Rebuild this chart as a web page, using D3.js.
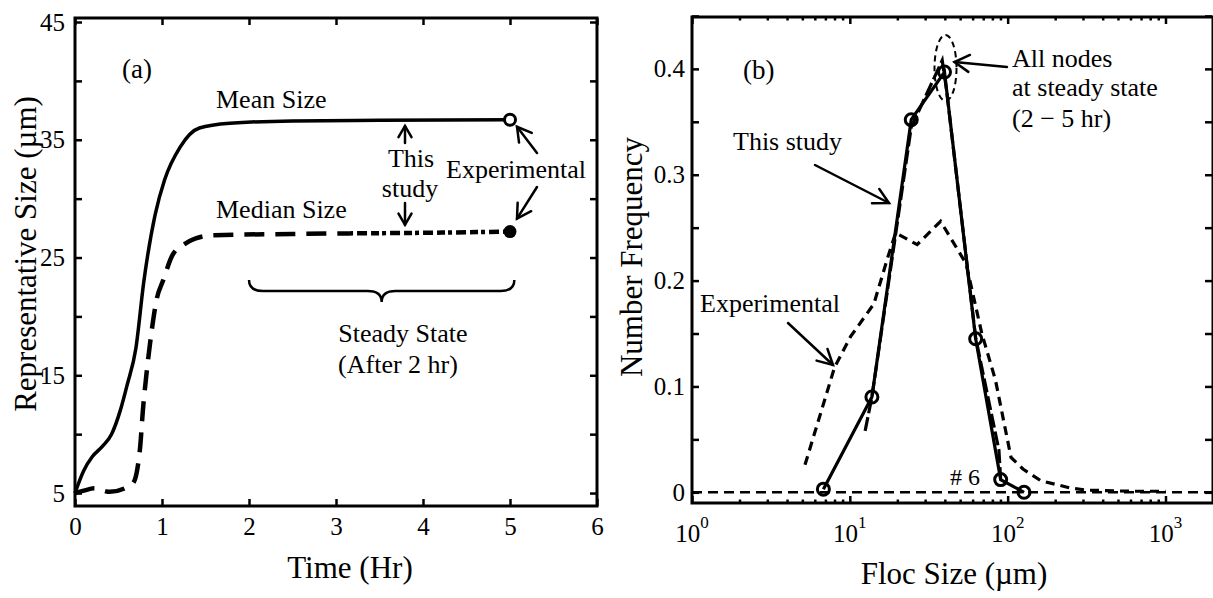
<!DOCTYPE html>
<html><head><meta charset="utf-8">
<script src="https://cdn.jsdelivr.net/npm/d3@7"></script>
<style>
body{margin:0;background:#fff}
svg text{font-family:"Liberation Serif","Times New Roman",serif;fill:#000}
</style>
</head><body>
<svg id="c" width="1213" height="598"></svg>
<script>
// ---------- Panel (a) data ----------
const meanTime   = [0,0.1,0.2,0.32,0.42,0.52,0.6,0.7,0.79,0.92,1.03,1.21,1.43,1.78,2.5,3.5,5];
const meanSize   = [5.0,6.9,8.1,9.0,10.0,12.0,14.2,17.3,22.9,28.6,31.6,34.4,36.0,36.4,36.6,36.65,36.7];
const medianTime = [0,0.1,0.22,0.4,0.6,0.68,0.72,0.75,0.78,0.82,0.88,0.94,1.01,1.12,1.25,1.38,1.6,2.5,3.15,4,5];
const medianSize = [5.0,5.2,5.4,5.1,5.5,6.0,7.2,9.0,12.0,15.0,18.7,21.5,23.0,25.2,26.1,26.6,26.9,27.0,27.05,27.1,27.2];
const medianSplit = 3.15;   // dash pattern changes after this time
const expTime    = [5];
const expMean    = [36.7];
const expMedian  = [27.2];
const aXTicks    = [0,1,2,3,4,5,6];
const aYTicks    = [5,10,15,20,25,30,35,40,45];
const aYLabels   = [5,15,25,35,45];

// ---------- Panel (b) data ----------
const studySize  = [6.8,13.8,24.5,39.8,62.7,90.3,127];
const studyFreq  = [0.003,0.090,0.352,0.397,0.145,0.012,0.0];
const nodeSize   = [12.5,13.8,24.5,38.5,41,62.7,88,90.3];
const nodeFreq   = [0.058,0.090,0.345,0.408,0.38,0.146,0.04,0.012];
const expSize    = [5.2,8.0,10.1,14.2,17.4,19.5,26.7,37.6,54.5,68.6,83.7,105,125,162,250,321,600,1000];
const expFreq    = [0.026,0.118,0.147,0.178,0.222,0.245,0.234,0.256,0.216,0.150,0.106,0.033,0.022,0.011,0.004,0.002,0.001,0.001];
const node6Size  = [1,2000];
const node6Freq  = [0,0];
const bXTicks    = [1,10,100,1000];
const bXExp      = ["0","1","2","3"];
const bYTicks    = [0,0.05,0.1,0.15,0.2,0.25,0.3,0.35,0.4,0.45];
const bYLabels   = [0,0.1,0.2,0.3,0.4];

const svg = d3.select("#c");
const FONT = '"Liberation Serif","Times New Roman",serif';

function styleAxis(g, fs){
  g.select(".domain").remove();
  g.selectAll(".tick line").attr("stroke","#000").attr("stroke-width",2.5);
  g.selectAll(".tick text").attr("font-size",fs).attr("font-family",FONT).attr("fill","#000");
}
function txt(x,y,s,fs,anchor){
  return svg.append("text").attr("x",x).attr("y",y).attr("font-size",fs)
    .attr("text-anchor",anchor||"start").text(s);
}
function arrow(x1,y1,x2,y2,len,ang){
  len = len||14; ang = (ang||28)*Math.PI/180;
  const a = Math.atan2(y1-y2,x1-x2);
  const g = svg.append("g").attr("stroke","#000").attr("stroke-width",2.5).attr("fill","none").attr("stroke-linecap","round");
  g.append("line").attr("x1",x1).attr("y1",y1).attr("x2",x2).attr("y2",y2);
  g.append("path").attr("d",`M${x2+len*Math.cos(a+ang)},${y2+len*Math.sin(a+ang)}L${x2},${y2}L${x2+len*Math.cos(a-ang)},${y2+len*Math.sin(a-ang)}`);
}

// ================= Panel (a) =================
const xA = d3.scaleLinear([0,6],[75,597]);
const yA = d3.scaleLinear([3.9,45.34],[506,18]);

const lineA = d3.line().curve(d3.curveMonotoneX);
svg.append("path").attr("d", lineA(meanTime.map((t,i)=>[xA(t),yA(meanSize[i])])))
  .attr("fill","none").attr("stroke","#000").attr("stroke-width",3.5);
const medPts = medianTime.map((t,i)=>[t,medianSize[i]]);
svg.append("path").attr("d", lineA(medPts.filter(p=>p[0]<=medianSplit).map(p=>[xA(p[0]),yA(p[1])])))
  .attr("fill","none").attr("stroke","#000").attr("stroke-width",4.5).attr("stroke-dasharray","20,11");
svg.append("path").attr("d", lineA(medPts.filter(p=>p[0]>=medianSplit).map(p=>[xA(p[0]),yA(p[1])])))
  .attr("fill","none").attr("stroke","#000").attr("stroke-width",4.5).attr("stroke-dasharray","4,4,10,4,8,3");
svg.selectAll(".mA").data(expTime).enter().append("circle")
  .attr("cx",d=>xA(d)).attr("cy",(d,i)=>yA(expMean[i])).attr("r",5.5)
  .attr("fill","#fff").attr("stroke","#000").attr("stroke-width",3);
svg.selectAll(".mdA").data(expTime).enter().append("circle")
  .attr("cx",d=>xA(d)).attr("cy",(d,i)=>yA(expMedian[i])).attr("r",6.5)
  .attr("fill","#000");

// axes (a)
let g;
g = svg.append("g").attr("transform",`translate(0,${yA.range()[0]})`)
  .call(d3.axisBottom(xA).tickValues(aXTicks).tickSize(-7).tickPadding(11).tickFormat(d3.format("d")));
styleAxis(g,25);
g = svg.append("g").attr("transform",`translate(0,${yA.range()[1]})`)
  .call(d3.axisTop(xA).tickValues(aXTicks).tickSize(-7).tickFormat(""));
styleAxis(g,25);
g = svg.append("g").attr("transform",`translate(${xA.range()[0]},0)`)
  .call(d3.axisLeft(yA).tickValues(aYTicks).tickSize(-7).tickPadding(10).tickFormat(d=>aYLabels.includes(d)?d:""));
styleAxis(g,25);
g = svg.append("g").attr("transform",`translate(${xA.range()[1]},0)`)
  .call(d3.axisRight(yA).tickValues(aYTicks).tickSize(-7).tickFormat(""));
styleAxis(g,25);
svg.append("rect").attr("x",xA.range()[0]).attr("y",yA.range()[1])
  .attr("width",xA.range()[1]-xA.range()[0]).attr("height",yA.range()[0]-yA.range()[1])
  .attr("fill","none").attr("stroke","#000").attr("stroke-width",3);

// annotations (a)
txt(122,78,"(a)",27);
txt(216,108,"Mean Size",26);
txt(216,218,"Median Size",26);
txt(411,167,"This",26,"middle");
txt(410,197,"study",26,"middle");
txt(446,178,"Experimental",26);
txt(403,342,"Steady State",26,"middle");
txt(398,373,"(After 2 hr)",26,"middle");
arrow(405,143,405,yA(36.6)+5,13,30);
arrow(405,203,405,yA(27.1)-8,13,30);
arrow(537,153,xA(5)+7,yA(36.7)+7,16,30);
arrow(537,187,xA(5)+7,yA(27.2)-13,16,30);
// brace
(function(){
  const x0=xA(2), x1=xA(5.05), xm=(x0+x1)/2, yt=280, yl=291, yb=302;
  svg.append("path").attr("fill","none").attr("stroke","#000").attr("stroke-width",2.5)
    .attr("d",`M${x0},${yt} Q${x0},${yl} ${x0+14},${yl} L${xm-14},${yl} Q${xm},${yl} ${xm},${yb} Q${xm},${yl} ${xm+14},${yl} L${x1-14},${yl} Q${x1},${yl} ${x1},${yt}`);
})();
txt(350,578,"Time (Hr)",31,"middle");
svg.append("text").attr("transform","translate(36,254) rotate(-90)").attr("text-anchor","middle")
  .attr("font-size",31).text("Representative Size (µm)");

// ================= Panel (b) =================
const xB = d3.scaleLog([1,2000],[692,1213]);
const yB = d3.scaleLinear([-0.0101,0.449],[503,17]);
const lineB = d3.line();

svg.append("path").attr("d", lineB(node6Size.map((s,i)=>[xB(s),yB(node6Freq[i])])))
  .attr("fill","none").attr("stroke","#000").attr("stroke-width",2.5).attr("stroke-dasharray","10,6");
svg.append("path").attr("d", lineB(expSize.map((s,i)=>[xB(s),yB(expFreq[i])])))
  .attr("fill","none").attr("stroke","#000").attr("stroke-width",3.2).attr("stroke-dasharray","9,6");
svg.append("path").attr("d", lineB(nodeSize.map((s,i)=>[xB(s),yB(nodeFreq[i])])))
  .attr("fill","none").attr("stroke","#000").attr("stroke-width",3.2).attr("stroke-dasharray","14,4");
svg.append("path").attr("d", lineB(studySize.map((s,i)=>[xB(s),yB(studyFreq[i])])))
  .attr("fill","none").attr("stroke","#000").attr("stroke-width",3.2);
svg.selectAll(".mB").data(studySize).enter().append("circle")
  .attr("cx",d=>xB(d)).attr("cy",(d,i)=>yB(studyFreq[i])).attr("r",6)
  .attr("fill","none").attr("stroke","#000").attr("stroke-width",3);
// dashed ellipse around the peak
svg.append("ellipse").attr("cx",xB(studySize[3])+1).attr("cy",yB(studyFreq[3])-4)
  .attr("rx",11).attr("ry",33).attr("fill","none").attr("stroke","#000")
  .attr("stroke-width",2).attr("stroke-dasharray","6,4");

// axes (b)
const minor = [];
[1,10,100,1000].forEach(d=>{ for(let k=2;k<=9;k++){ if(k*d<=2000) minor.push(k*d); } });
g = svg.append("g").attr("transform",`translate(0,${yB.range()[0]})`)
  .call(d3.axisBottom(xB).tickValues(bXTicks).tickSize(-7).tickFormat(""));
styleAxis(g,25);
g = svg.append("g").attr("transform",`translate(0,${yB.range()[0]})`)
  .call(d3.axisBottom(xB).tickValues(minor).tickSize(-3.5).tickFormat(""));
styleAxis(g,25);
g = svg.append("g").attr("transform",`translate(0,${yB.range()[1]})`)
  .call(d3.axisTop(xB).tickValues(bXTicks).tickSize(-7).tickFormat(""));
styleAxis(g,25);
g = svg.append("g").attr("transform",`translate(0,${yB.range()[1]})`)
  .call(d3.axisTop(xB).tickValues(minor).tickSize(-3.5).tickFormat(""));
styleAxis(g,25);
g = svg.append("g").attr("transform",`translate(${xB.range()[0]},0)`)
  .call(d3.axisLeft(yB).tickValues(bYTicks).tickSize(-7).tickPadding(7)
    .tickFormat(d=>bYLabels.some(v=>Math.abs(v-d)<1e-9)?String(+d.toFixed(2)):""));
styleAxis(g,25);
g = svg.append("g").attr("transform",`translate(${xB.range()[1]-1},0)`)
  .call(d3.axisRight(yB).tickValues(bYTicks).tickSize(-7).tickFormat(""));
styleAxis(g,25);
svg.append("rect").attr("x",xB.range()[0]).attr("y",yB.range()[1])
  .attr("width",xB.range()[1]-xB.range()[0]).attr("height",yB.range()[0]-yB.range()[1])
  .attr("fill","none").attr("stroke","#000").attr("stroke-width",3);
// log tick labels
bXTicks.forEach((d,i)=>{
  const t = svg.append("text").attr("x",xB(d)).attr("y",542).attr("font-size",25).attr("text-anchor","middle");
  t.append("tspan").text("10");
  t.append("tspan").attr("dy",-14).attr("font-size",17).text(bXExp[i]);
});

// annotations (b)
txt(743,79,"(b)",27);
txt(1012,67,"All nodes",26);
txt(1012,96,"at steady state",26);
txt(1012,127,"(2 − 5 hr)",26);
txt(733,150,"This study",26);
txt(700,312,"Experimental",26);
txt(950,485,"# 6",24);
arrow(1007,67,xB(studySize[3])+10,yB(studyFreq[3])-10,17,30);
arrow(815,165,889,203,17,28);
arrow(788,323,833,365,17,28);
txt(954,584,"Floc Size (µm)",31,"middle");
svg.append("text").attr("transform","translate(642,257) rotate(-90)").attr("text-anchor","middle")
  .attr("font-size",31).text("Number Frequency");
</script>
</body></html>
